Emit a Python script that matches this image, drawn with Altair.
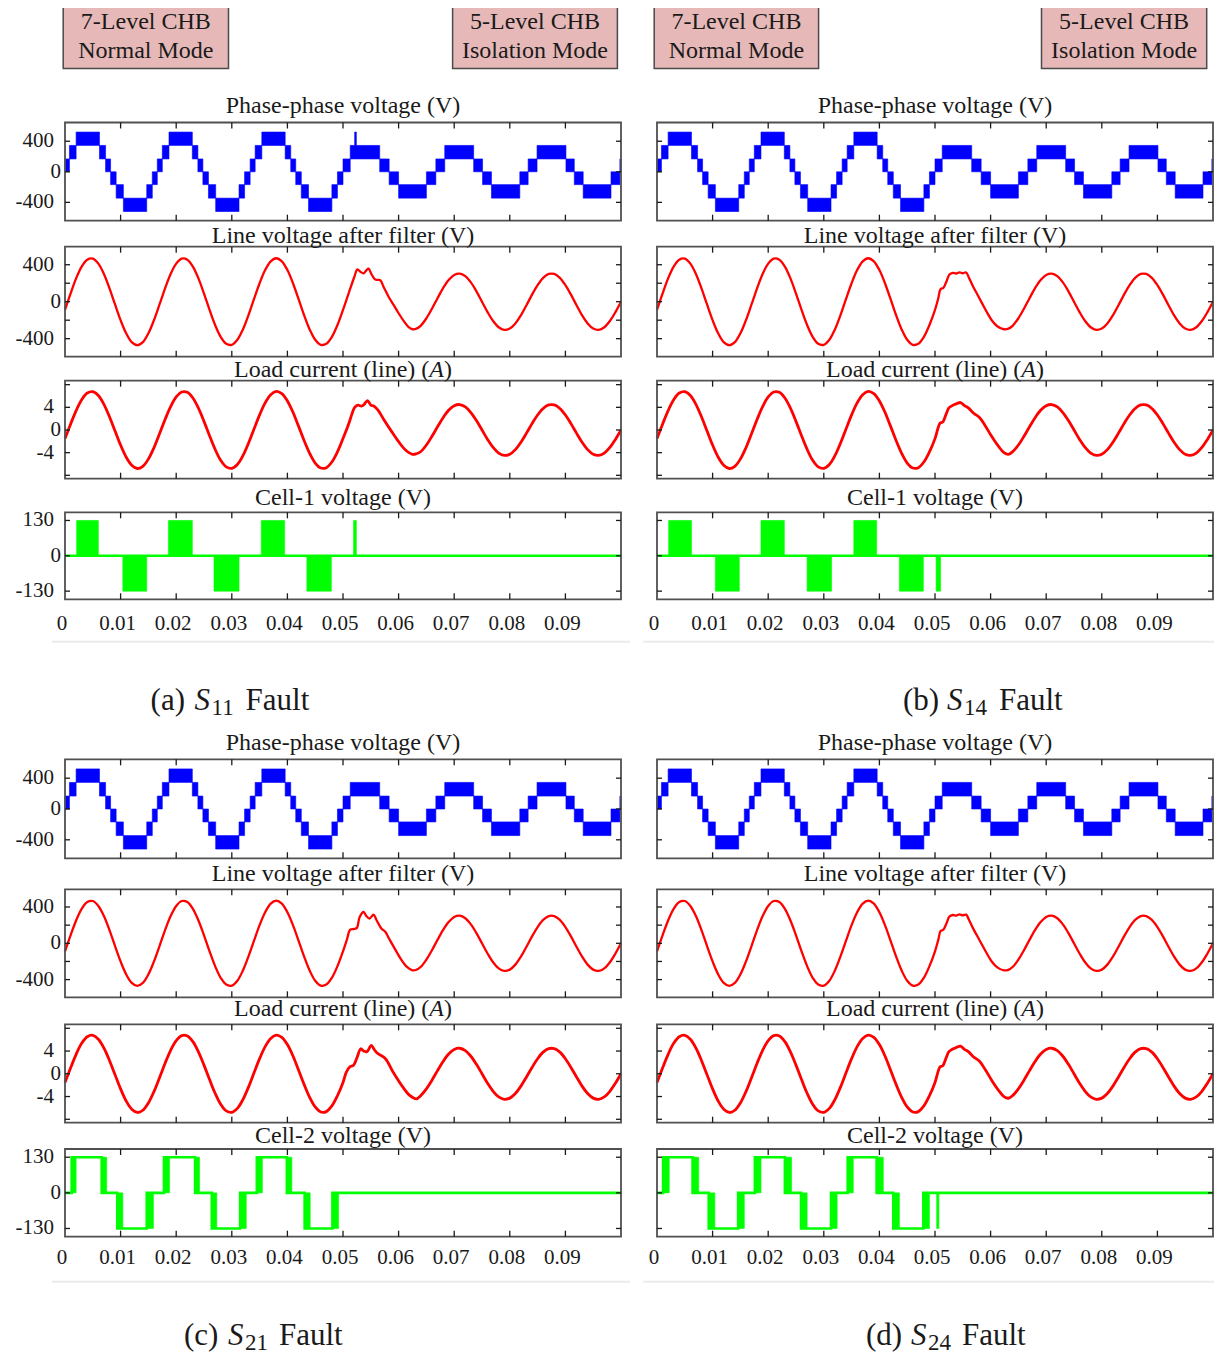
import altair as alt
import pandas as pd

# ================= values =================
X_TICKS = [0.01, 0.02, 0.03, 0.04, 0.05, 0.06, 0.07, 0.08, 0.09]
X_LABEL_POS = [0.0, 0.01, 0.02, 0.03, 0.04, 0.05, 0.06, 0.07, 0.08, 0.09]
X_LABELS = ["0", "0.01", "0.02", "0.03", "0.04", "0.05", "0.06", "0.07", "0.08", "0.09"]

# phase-phase voltage: PWM bands between two adjacent levels
PP_LEVELS = [-520, -345, -168, 0, 168, 345, 520]
PP_EDGES = [0.0000, 0.0008, 0.0020, 0.0062, 0.0073, 0.0082, 0.0092, 0.0105, 0.0147, 0.0157,
            0.0166, 0.0175, 0.0187, 0.0229, 0.0239, 0.0248, 0.0258, 0.0271, 0.0313, 0.0323,
            0.0333, 0.0342, 0.0354, 0.0396, 0.0406, 0.0415, 0.0425, 0.0438, 0.0480, 0.0490,
            0.0500, 0.0513, 0.0566, 0.0583, 0.0600, 0.0650, 0.0667, 0.0683, 0.0735, 0.0751,
            0.0767, 0.0818, 0.0833, 0.0849, 0.0901, 0.0916, 0.0932, 0.0982, 0.0998, 0.1000]
PP_BANDS = [0, 1, 2, 1, 0, -1, -2, -3, -2, -1,
            0, 1, 2, 1, 0, -1, -2, -3, -2, -1,
            0, 1, 2, 1, 0, -1, -2, -3, -2, -1,
            0, 1, 0, -1, -2, -1, 0, 1, 0, -1,
            -2, -1, 0, 1, 0, -1, -2, -1, 0]
PP_SPIKE_A = [0.0521, 0.0524, 345, 520]

# line voltage after filter (V): 0..50 ms every 1 ms, transient, 64..100 ms every 1 ms
LV_PRE = [-88, 88, 252, 380, 455, 466, 412, 300, 145, -30,
          -200, -342, -437, -470, -437, -342, -200, -30, 145, 300,
          412, 466, 455, 380, 252, 88, -88, -252, -380, -455,
          -466, -412, -300, -145, 30, 200, 342, 437, 470, 437,
          342, 200, 30, -145, -300, -412, -466, -455, -380, -252,
          -88]
LV_POST = [-258, -179, -76, 38, 147, 235, 290, 304, 276, 209, 112, 0, -112, -209, -276, -304,
           -290, -235, -147, -38, 76, 179, 258, 300, 300, 258, 179, 76, -38, -147, -235, -290,
           -304, -276, -209, -112, 0]
LV_TR_A_T = [51.0, 52.0, 52.6, 53.1, 53.7, 54.2, 54.6, 55.1, 55.7, 56.1, 56.7, 57.3, 58.2, 59.1,
             60.0, 61.0, 61.8, 62.5, 63.2]
LV_TR_A_V = [88, 262, 350, 325, 307, 340, 357, 300, 245, 236, 232, 160, 54, -35,
             -125, -215, -275, -298, -292]
LV_TR_BD_T = [50.6, 51.0, 51.5, 52.0, 52.6, 53.2, 53.8, 54.4, 55.0, 55.6, 56.1, 56.8, 57.6, 58.4,
              59.3, 60.2, 61.2, 62.4, 63.2]
LV_TR_BD_V = [40, 135, 150, 210, 295, 312, 305, 318, 308, 316, 260, 170, 80, -10,
              -110, -200, -265, -298, -292]
LV_TR_C_T = [50.7, 51.3, 52.0, 52.5, 53.0, 53.7, 54.2, 54.8, 55.5, 56.0, 56.9, 57.6, 58.3, 59.1,
             60.5, 61.5, 62.5, 63.2]
LV_TR_C_V = [40, 150, 158, 170, 290, 345, 300, 273, 316, 260, 164, 127, 50, -36,
             -182, -260, -298, -292]

# load current (A)
CUR_PRE = [-1.52, 1.02, 3.42, 5.35, 6.52, 6.77, 6.08, 4.53, 2.34, -0.17,
           -2.66, -4.78, -6.22, -6.80, -6.41, -5.13, -3.13, -0.68, 1.86, 4.13,
           5.83, 6.71, 6.65, 5.65, 3.86, 1.52, -1.02, -3.42, -5.35, -6.52,
           -6.77, -6.08, -4.53, -2.34, 0.17, 2.66, 4.78, 6.22, 6.80, 6.41,
           5.13, 3.13, 0.68, -1.86, -4.13, -5.83, -6.71, -6.65, -5.65, -3.86,
           -1.52]
CUR_POST = [-3.80, -2.65, -1.12, 0.56, 2.17, 3.47, 4.28, 4.49, 4.07, 3.08, 1.66, 0.0, -1.66,
            -3.08, -4.07, -4.49, -4.28, -3.47, -2.17, -0.56, 1.12, 2.65, 3.80, 4.42, 4.42, 3.80,
            2.65, 1.12, -0.56, -2.17, -3.47, -4.28, -4.49, -4.07, -3.08, -1.66, 0.0]
CUR_TR_A_T = [51.0, 51.6, 52.1, 52.7, 53.3, 53.8, 54.4, 55.0, 55.6, 56.3, 57.3, 58.7, 60.1, 61.2,
              62.5, 63.2]
CUR_TR_A_V = [1.0, 2.8, 4.0, 4.4, 4.2, 4.5, 5.2, 4.4, 4.2, 3.5, 1.9, -0.2, -2.2, -3.5,
              -4.3, -4.2]
CUR_TR_BD_T = [50.5, 50.9, 51.4, 52.0, 52.5, 53.1, 53.8, 54.6, 55.3, 56.0, 56.9, 58.0, 59.0, 60.3,
               61.5, 62.4, 63.2]
CUR_TR_BD_V = [0.2, 1.2, 1.4, 2.8, 3.9, 4.3, 4.6, 4.85, 4.3, 3.9, 3.0, 2.2, 0.8, -1.3,
               -3.0, -4.0, -4.3]
CUR_TR_C_T = [50.6, 51.2, 51.9, 52.5, 53.2, 53.7, 54.3, 55.1, 55.6, 56.2, 57.6, 59.0, 60.8, 62.0,
              63.2]
CUR_TR_C_V = [0.3, 1.2, 1.5, 2.8, 4.4, 4.0, 3.9, 5.0, 4.3, 3.6, 2.7, 0.3, -2.4, -3.8,
              -4.4]

# cell-1 voltage: PWM pulse blocks
C1_A_T0 = [0.0021, 0.0104, 0.0186, 0.0268, 0.0353, 0.0435, 0.0519]
C1_A_T1 = [0.0060, 0.0147, 0.0229, 0.0313, 0.0395, 0.0479, 0.0524]
C1_A_V = [130, -130, 130, -130, 130, -130, 130]
C1_B_T0 = [0.0021, 0.0105, 0.0187, 0.0270, 0.0354, 0.0436, 0.0502]
C1_B_T1 = [0.0062, 0.0148, 0.0229, 0.0314, 0.0395, 0.0479, 0.0510]
C1_B_V = [130, -130, 130, -130, 130, -130, -130]

# cell-2 voltage: square wave plus thick switching edges
C2_C_STEP_T = [0, 0.0012, 0.0066, 0.0094, 0.0147, 0.0178, 0.0234, 0.0264, 0.0315, 0.0345,
               0.0399, 0.0431, 0.0481, 0.1]
C2_C_STEP_V = [0, 130, 0, -130, 0, 130, 0, -130, 0, 130, 0, -130, 0, 0]
C2_C_EDGE_T0 = [0.0012, 0.0066, 0.0094, 0.0147, 0.0178, 0.0234, 0.0264, 0.0315, 0.0345, 0.0399,
                0.0431, 0.0481]
C2_C_EDGE_T1 = [0.0020, 0.0075, 0.0104, 0.0159, 0.0188, 0.0242, 0.0273, 0.0326, 0.0355, 0.0408,
                0.0441, 0.0492]
C2_C_EDGE_V = [130, 130, -130, -130, 130, 130, -130, -130, 130, 130, -130, -130]
C2_D_STEP_T = [0, 0.0011, 0.0064, 0.0093, 0.0146, 0.0176, 0.0230, 0.0259, 0.0313, 0.0343,
               0.0395, 0.0425, 0.0479, 0.1]
C2_D_STEP_V = [0, 130, 0, -130, 0, 130, 0, -130, 0, 130, 0, -130, 0, 0]
C2_D_EDGE_T0 = [0.0011, 0.0064, 0.0093, 0.0146, 0.0176, 0.0230, 0.0259, 0.0313, 0.0343, 0.0395,
                0.0425, 0.0479, 0.0503]
C2_D_EDGE_T1 = [0.0022, 0.0075, 0.0104, 0.0157, 0.0187, 0.0242, 0.0270, 0.0324, 0.0353, 0.0407,
                0.0436, 0.0490, 0.0507]
C2_D_EDGE_V = [130, 130, -130, -130, 130, 130, -130, -130, 130, 130, -130, -130, -130]

SUB_TITLES = ["Phase-phase voltage (V)", "Line voltage after filter (V)", "Load current (line) (",
              "Cell-1 voltage (V)", "Cell-2 voltage (V)"]
Y_TICKS = [[-400, 0, 400], [-400, -200, 0, 200, 400], [-8, -4, 0, 4, 8], [-130, 0, 130]]
Y_LABEL_VALUES = [[-400, 0, 400], [-400, 0, 400], [-4, 0, 4], [-130, 0, 130]]
Y_LABELS = [["-400", "0", "400"], ["-400", "0", "400"], ["-4", "0", "4"], ["-130", "0", "130"]]
Y_DOMAINS = [[-640, 645], [-595, 595], [-8.6, 8.7], [-160, 160]]

HEADER_LINES = [["7-Level CHB", "Normal Mode"], ["5-Level CHB", "Isolation Mode"]]
CAPTIONS = {"a": ("(a)", "S", "11", "Fault"), "b": ("(b)", "S", "14", "Fault"),
            "c": ("(c)", "S", "21", "Fault"), "d": ("(d)", "S", "24", "Fault")}

# ================= layout and style =================
M = 8
W, H = 1206, 1350
FONT = "Liberation Serif"
TXT = "#1a1a1a"
FRAME_C = "#505050"
TICK_C = "#1a1a1a"
BLUE, RED, GREEN = "#0000ff", "#ff0000", "#00ff00"
TICK_LEN = 6
TITLE_FS = 24
LABEL_FS = 21

COLS = {"a": (65, 621), "b": (657, 1213), "c": (65, 621), "d": (657, 1213)}
TOP_ROWS = [(122.5, 220.7), (246.7, 356.7), (380.7, 478.7), (512.3, 599.3)]
BOT_ROWS = [(759.3, 858.3), (889.3, 997.3), (1024.3, 1122.7), (1149.0, 1236.7)]
ROWS = {"a": TOP_ROWS, "b": TOP_ROWS, "c": BOT_ROWS, "d": BOT_ROWS}
TITLE_GAP = {"a": [10, 4, 4, 7], "b": [10, 4, 4, 7], "c": [9, 8, 8, 6], "d": [9, 8, 8, 6]}
XLAB_GAP = {"a": 31, "b": 31, "c": 27, "d": 27}

ONE = pd.DataFrame({"k": [0]})


def XQ(f, sc):
    return alt.X(f"{f}:Q", scale=sc, axis=None)


def YQ(f, sc):
    return alt.Y(f"{f}:Q", scale=sc, axis=None)


def wave_df(pre, tr_t, tr_v, post):
    t = [i / 1000 for i in range(len(pre))] + [x / 1000 for x in tr_t] + \
        [(64 + i) / 1000 for i in range(len(post))]
    return pd.DataFrame({"t": t, "v": list(pre) + list(tr_v) + list(post)})


def band_df(edges, bands, levels):
    return pd.DataFrame({"t0": edges[:-1], "t1": edges[1:],
                         "lo": [levels[b + 3] for b in bands],
                         "hi": [levels[b + 4] for b in bands]})


PANEL = {
    "a": dict(lv=(LV_TR_A_T, LV_TR_A_V), cur=(CUR_TR_A_T, CUR_TR_A_V), cell="c1",
              c1=(C1_A_T0, C1_A_T1, C1_A_V), spike=True),
    "b": dict(lv=(LV_TR_BD_T, LV_TR_BD_V), cur=(CUR_TR_BD_T, CUR_TR_BD_V), cell="c1",
              c1=(C1_B_T0, C1_B_T1, C1_B_V), spike=False),
    "c": dict(lv=(LV_TR_C_T, LV_TR_C_V), cur=(CUR_TR_C_T, CUR_TR_C_V), cell="c2",
              c2=(C2_C_STEP_T, C2_C_STEP_V, C2_C_EDGE_T0, C2_C_EDGE_T1, C2_C_EDGE_V), spike=False),
    "d": dict(lv=(LV_TR_BD_T, LV_TR_BD_V), cur=(CUR_TR_BD_T, CUR_TR_BD_V), cell="c2",
              c2=(C2_D_STEP_T, C2_D_STEP_V, C2_D_EDGE_T0, C2_D_EDGE_T1, C2_D_EDGE_V), spike=False),
}


def subplot(p, k):
    x0, x1 = COLS[p]
    ytop, ybot = ROWS[p][k]
    dom = Y_DOMAINS[k]
    xs = alt.Scale(domain=[0, 0.1], range=[x0 - M, x1 - M])
    ys = alt.Scale(domain=dom, range=[ybot - M, ytop - M])
    info = PANEL[p]
    L = []

    # ---- data ----
    if k == 0:
        df = band_df(PP_EDGES, PP_BANDS, PP_LEVELS)
        L.append(alt.Chart(df).mark_rect(color=BLUE, stroke=BLUE, strokeWidth=0.6).encode(
            x=XQ("t0", xs), x2="t1", y=YQ("lo", ys), y2="hi"))
        if info["spike"]:
            sp = pd.DataFrame({"t0": [PP_SPIKE_A[0]], "t1": [PP_SPIKE_A[1]],
                               "lo": [PP_SPIKE_A[2]], "hi": [PP_SPIKE_A[3]]})
            L.append(alt.Chart(sp).mark_rect(color=BLUE, stroke=BLUE, strokeWidth=0.6).encode(
                x=XQ("t0", xs), x2="t1", y=YQ("lo", ys), y2="hi"))
    elif k == 1:
        df = wave_df(LV_PRE, info["lv"][0], info["lv"][1], LV_POST)
        L.append(alt.Chart(df).mark_line(color=RED, strokeWidth=2.3, interpolate="catmull-rom").encode(
            x=XQ("t", xs), y=YQ("v", ys)))
    elif k == 2:
        df = wave_df(CUR_PRE, info["cur"][0], info["cur"][1], CUR_POST)
        L.append(alt.Chart(df).mark_line(color=RED, strokeWidth=2.8, interpolate="catmull-rom").encode(
            x=XQ("t", xs), y=YQ("v", ys)))
    else:
        if info["cell"] == "c1":
            t0, t1, v = info["c1"]
            zero = pd.DataFrame({"t": [0.0, 0.1], "v": [0, 0]})
            L.append(alt.Chart(zero).mark_line(color=GREEN, strokeWidth=2.4).encode(
                x=XQ("t", xs), y=YQ("v", ys)))
            blk = pd.DataFrame({"t0": t0, "t1": t1, "lo": [0] * len(v), "hi": v})
            L.append(alt.Chart(blk).mark_rect(color=GREEN, stroke=GREEN, strokeWidth=0.6).encode(
                x=XQ("t0", xs), x2="t1", y=YQ("lo", ys), y2="hi"))
        else:
            st, sv, e0, e1, ev = info["c2"]
            step = pd.DataFrame({"t": st, "v": sv})
            L.append(alt.Chart(step).mark_line(color=GREEN, strokeWidth=2.6, interpolate="step-after").encode(
                x=XQ("t", xs), y=YQ("v", ys)))
            edg = pd.DataFrame({"t0": e0, "t1": e1, "lo": [0] * len(ev), "hi": ev})
            L.append(alt.Chart(edg).mark_rect(color=GREEN, stroke=GREEN, strokeWidth=0.6).encode(
                x=XQ("t0", xs), x2="t1", y=YQ("lo", ys), y2="hi"))

    # ---- frame ----
    fr = pd.DataFrame({"t0": [0.0], "t1": [0.1], "lo": [dom[0]], "hi": [dom[1]]})
    L.append(alt.Chart(fr).mark_rect(fillOpacity=0, stroke=FRAME_C, strokeWidth=1.8).encode(
        x=XQ("t0", xs), x2="t1", y=YQ("lo", ys), y2="hi"))

    # ---- inward ticks ----
    span = dom[1] - dom[0]
    tly = TICK_LEN / (ybot - ytop) * span
    rows = []
    for t in X_TICKS:
        rows.append({"t": t, "ya": dom[1], "yb": dom[1] - tly})
        rows.append({"t": t, "ya": dom[0], "yb": dom[0] + tly})
    L.append(alt.Chart(pd.DataFrame(rows)).mark_rule(color=TICK_C, strokeWidth=1.3).encode(
        x=XQ("t", xs), y=YQ("ya", ys), y2="yb"))
    tlx = (TICK_LEN - 1) / (x1 - x0) * 0.1
    rows = []
    for v in Y_TICKS[k]:
        rows.append({"v": v, "xa": 0.0, "xb": tlx})
        rows.append({"v": v, "xa": 0.1, "xb": 0.1 - tlx})
    L.append(alt.Chart(pd.DataFrame(rows)).mark_rule(color=TICK_C, strokeWidth=1.3).encode(
        x=XQ("xa", xs), x2="xb", y=YQ("v", ys)))

    # ---- y tick labels (left column only) ----
    if p in ("a", "c"):
        vals, txts = Y_LABEL_VALUES[k], Y_LABELS[k]
        nz = pd.DataFrame({"t": [0.0] * 2, "v": [v for v in vals if v != 0],
                           "txt": [s for v, s in zip(vals, txts) if v != 0]})
        z = pd.DataFrame({"t": [0.0], "v": [0], "txt": ["0"]})
        L.append(alt.Chart(nz).mark_text(font=FONT, fontSize=LABEL_FS, color=TXT, align="right",
                                         baseline="middle", dx=-11).encode(
            x=XQ("t", xs), y=YQ("v", ys), text="txt:N"))
        L.append(alt.Chart(z).mark_text(font=FONT, fontSize=LABEL_FS, color=TXT, align="right",
                                        baseline="middle", dx=-4).encode(
            x=XQ("t", xs), y=YQ("v", ys), text="txt:N"))

    # ---- subplot title ----
    gap = TITLE_GAP[p][k]
    if k == 2:
        f = TITLE_FS / 23.0
        parts = [(SUB_TITLES[2], "normal", -104.4 * f), ("A", "italic", 82.7 * f), (")", "normal", 96.8 * f)]
        for txt, style, dx in parts:
            tdf = pd.DataFrame({"t": [0.05], "v": [dom[1]], "txt": [txt]})
            L.append(alt.Chart(tdf).mark_text(font=FONT, fontSize=TITLE_FS, fontStyle=style, color=TXT,
                                              align="left", baseline="alphabetic", dx=dx, dy=-gap).encode(
                x=XQ("t", xs), y=YQ("v", ys), text="txt:N"))
    else:
        if k == 3:
            title = SUB_TITLES[3] if info["cell"] == "c1" else SUB_TITLES[4]
        else:
            title = SUB_TITLES[k]
        tdf = pd.DataFrame({"t": [0.05], "v": [dom[1]], "txt": [title]})
        L.append(alt.Chart(tdf).mark_text(font=FONT, fontSize=TITLE_FS, color=TXT, align="center",
                                          baseline="alphabetic", dy=-gap).encode(
            x=XQ("t", xs), y=YQ("v", ys), text="txt:N"))

    # ---- x tick labels under the last subplot ----
    if k == 3:
        xl = pd.DataFrame({"t": X_LABEL_POS, "v": [dom[0]] * len(X_LABEL_POS), "txt": X_LABELS})
        L.append(alt.Chart(xl).mark_text(font=FONT, fontSize=LABEL_FS, color=TXT, align="center",
                                         baseline="alphabetic", dx=-3, dy=XLAB_GAP[p]).encode(
            x=XQ("t", xs), y=YQ("v", ys), text="txt:N"))
    return L


layers = []
for p in ["a", "b", "c", "d"]:
    for k in range(4):
        layers.extend(subplot(p, k))

# ---- header boxes ----
BOXES = [((63.2, 228.5), 0), ((452.6, 617.4), 1), ((654.2, 818.6), 0), ((1041.5, 1206.7), 1)]
for (bx0, bx1), which in BOXES:
    layers.append(alt.Chart(ONE).mark_rect(fill="#e6b9b8", stroke="#4a4a4a", strokeWidth=1.5).encode(
        x=alt.value(bx0 - M), x2=alt.value(bx1 - M), y=alt.value(3.8 - M), y2=alt.value(68.5 - M)))
    cx = (bx0 + bx1) / 2
    for line, by in zip(HEADER_LINES[which], [28.5, 57.5]):
        layers.append(alt.Chart(ONE).mark_text(text=line, font=FONT, fontSize=24, color=TXT,
                                               align="center", baseline="alphabetic").encode(
            x=alt.value(cx - M), y=alt.value(by - M)))

# ---- faint separator lines ----
for sy in [641.7, 1281.7]:
    for sx0, sx1 in [(52, 630), (643, 1222)]:
        layers.append(alt.Chart(ONE).mark_rule(color="#ebebeb", strokeWidth=2).encode(
            x=alt.value(sx0 - M), x2=alt.value(sx1 - M), y=alt.value(sy - M)))

# ---- captions ----
CAP_FS, SUB_FS = 31, 23
CAP_POS = {"a": (150.6, 710), "b": (903.0, 710), "c": (184.0, 1345), "d": (866.0, 1345)}
CAP_OFF = {"a": (44.0, 95.0), "b": (44.0, 96.0), "c": (44.0, 95.0), "d": (45.0, 96.0)}
for p, (cx0, cy) in CAP_POS.items():
    lab, s, sub, fault = CAPTIONS[p]
    o1, o3 = CAP_OFF[p]
    pieces = [(lab, cx0, cy, CAP_FS, "normal"), (s, cx0 + o1, cy, CAP_FS, "italic"),
              (sub, cx0 + o1 + 17.0, cy + 5, SUB_FS, "normal"), (fault, cx0 + o3, cy, CAP_FS, "normal")]
    for txt, px, py, fs, style in pieces:
        layers.append(alt.Chart(ONE).mark_text(text=txt, font=FONT, fontSize=fs, fontStyle=style,
                                               color=TXT, align="left", baseline="alphabetic").encode(
            x=alt.value(px - M), y=alt.value(py - M)))

chart = alt.layer(*layers).resolve_scale(x="independent", y="independent").properties(
    width=W, height=H, autosize=alt.AutoSizeParams(type="none"), padding=0
).configure_view(stroke=None)

chart.save("out.html", embed_options={"renderer": "svg", "actions": False})
